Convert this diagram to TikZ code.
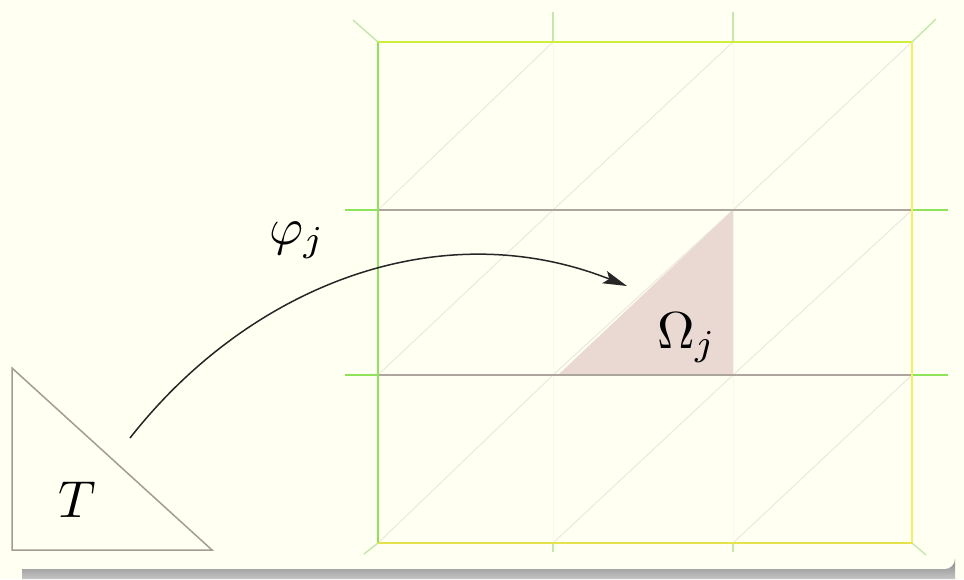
\documentclass[tikz,border=0pt]{standalone}
\usetikzlibrary{arrows.meta}
\definecolor{bgc}{HTML}{FFFFF2}
\definecolor{edgegreen}{HTML}{8EE35A}
\definecolor{edgetop}{HTML}{CDEE3C}
\definecolor{edgeyellow}{HTML}{F0F060}
\definecolor{edgebottom}{HTML}{E6E24E}
\definecolor{gridgray}{HTML}{ACA69E}
\definecolor{faintgray}{HTML}{EDEADF}
\definecolor{stubgreen}{HTML}{C2E8AC}
\definecolor{omegafill}{HTML}{EAD9D2}
\definecolor{tgray}{HTML}{A39C94}
\tikzset{
  edge/.style={line width=2pt},
  gridline/.style={gridgray, line width=1.3pt},
  faint/.style={faintgray, line width=1.1pt},
  stub/.style={stubgreen, line width=1.4pt},
  lbl/.style={inner sep=0pt, scale=5.2},
}
\begin{document}
\begin{tikzpicture}[x=1pt,y=-1pt]
\useasboundingbox (0,0) rectangle (964,579);
\fill[bgc] (0,0) rectangle (964,579);
% shadow
\shade[top color=gray!95, bottom color=gray!45] (22,569) -- (945,569) arc[start angle=90,end angle=0,radius=10] -- (955,579) -- (22,579) -- cycle;
% faint diagonals and inner verticals
\foreach \xa/\xb in {378/553,553/733,733/912}{
  \foreach \ya/\yb in {210/42,375/210,543/375}{
    \draw[faint] (\xa,\ya) -- (\xb,\yb);
  }
}
\draw[faintgray!40, line width=1pt] (553,42) -- (553,543) (733,42) -- (733,543);
% shaded triangle
\fill[omegafill] (558,375) -- (733,375) -- (733,210) -- cycle;
% horizontal lines
\foreach \y in {210,375}{
  \draw[gridline] (378,\y) -- (912,\y);
  \draw[edgegreen, line width=1.5pt] (345,\y) -- (378,\y);
  \draw[edgegreen, line width=1.5pt] (912,\y) -- (948,\y);
}
% stubs
\draw[stub] (553,12) -- (553,42) (733,12) -- (733,42);
\draw[stub] (553,543) -- (553,552) (733,543) -- (733,552);
\draw[stub] (353,20) -- (378,42);
\draw[stub] (912,42) -- (936,19);
\draw[stub] (378,543) -- (364,554);
\draw[stub] (912,543) -- (926,555);
% outer edges
\draw[edge, edgegreen] (378,42) -- (378,543);
\draw[edge, edgetop] (378,42) -- (912,42);
\draw[edge, edgeyellow] (912,42) -- (912,543);
\draw[edge, edgebottom] (378,543) -- (912,543);
% triangle T
\draw[tgray, line width=1.5pt, line join=miter] (12,368) -- (12,550) -- (212,550) -- cycle;
\node[lbl, anchor=base west] (T) at (57,517) {$T$};
\node[lbl, anchor=base west] (om) at (656,348) {$\Omega_j$};
\node[lbl, anchor=base west] (phi) at (268,244) {$\varphi_j$};
\coordinate (s) at (130,438);
\coordinate (e) at (627,286);
\draw[black!85, line width=1.5pt, -{Stealth[length=24pt,width=13pt,inset=5pt]}] (s) .. controls (250,285) and (440,212) .. (e);
\end{tikzpicture}
\end{document}
